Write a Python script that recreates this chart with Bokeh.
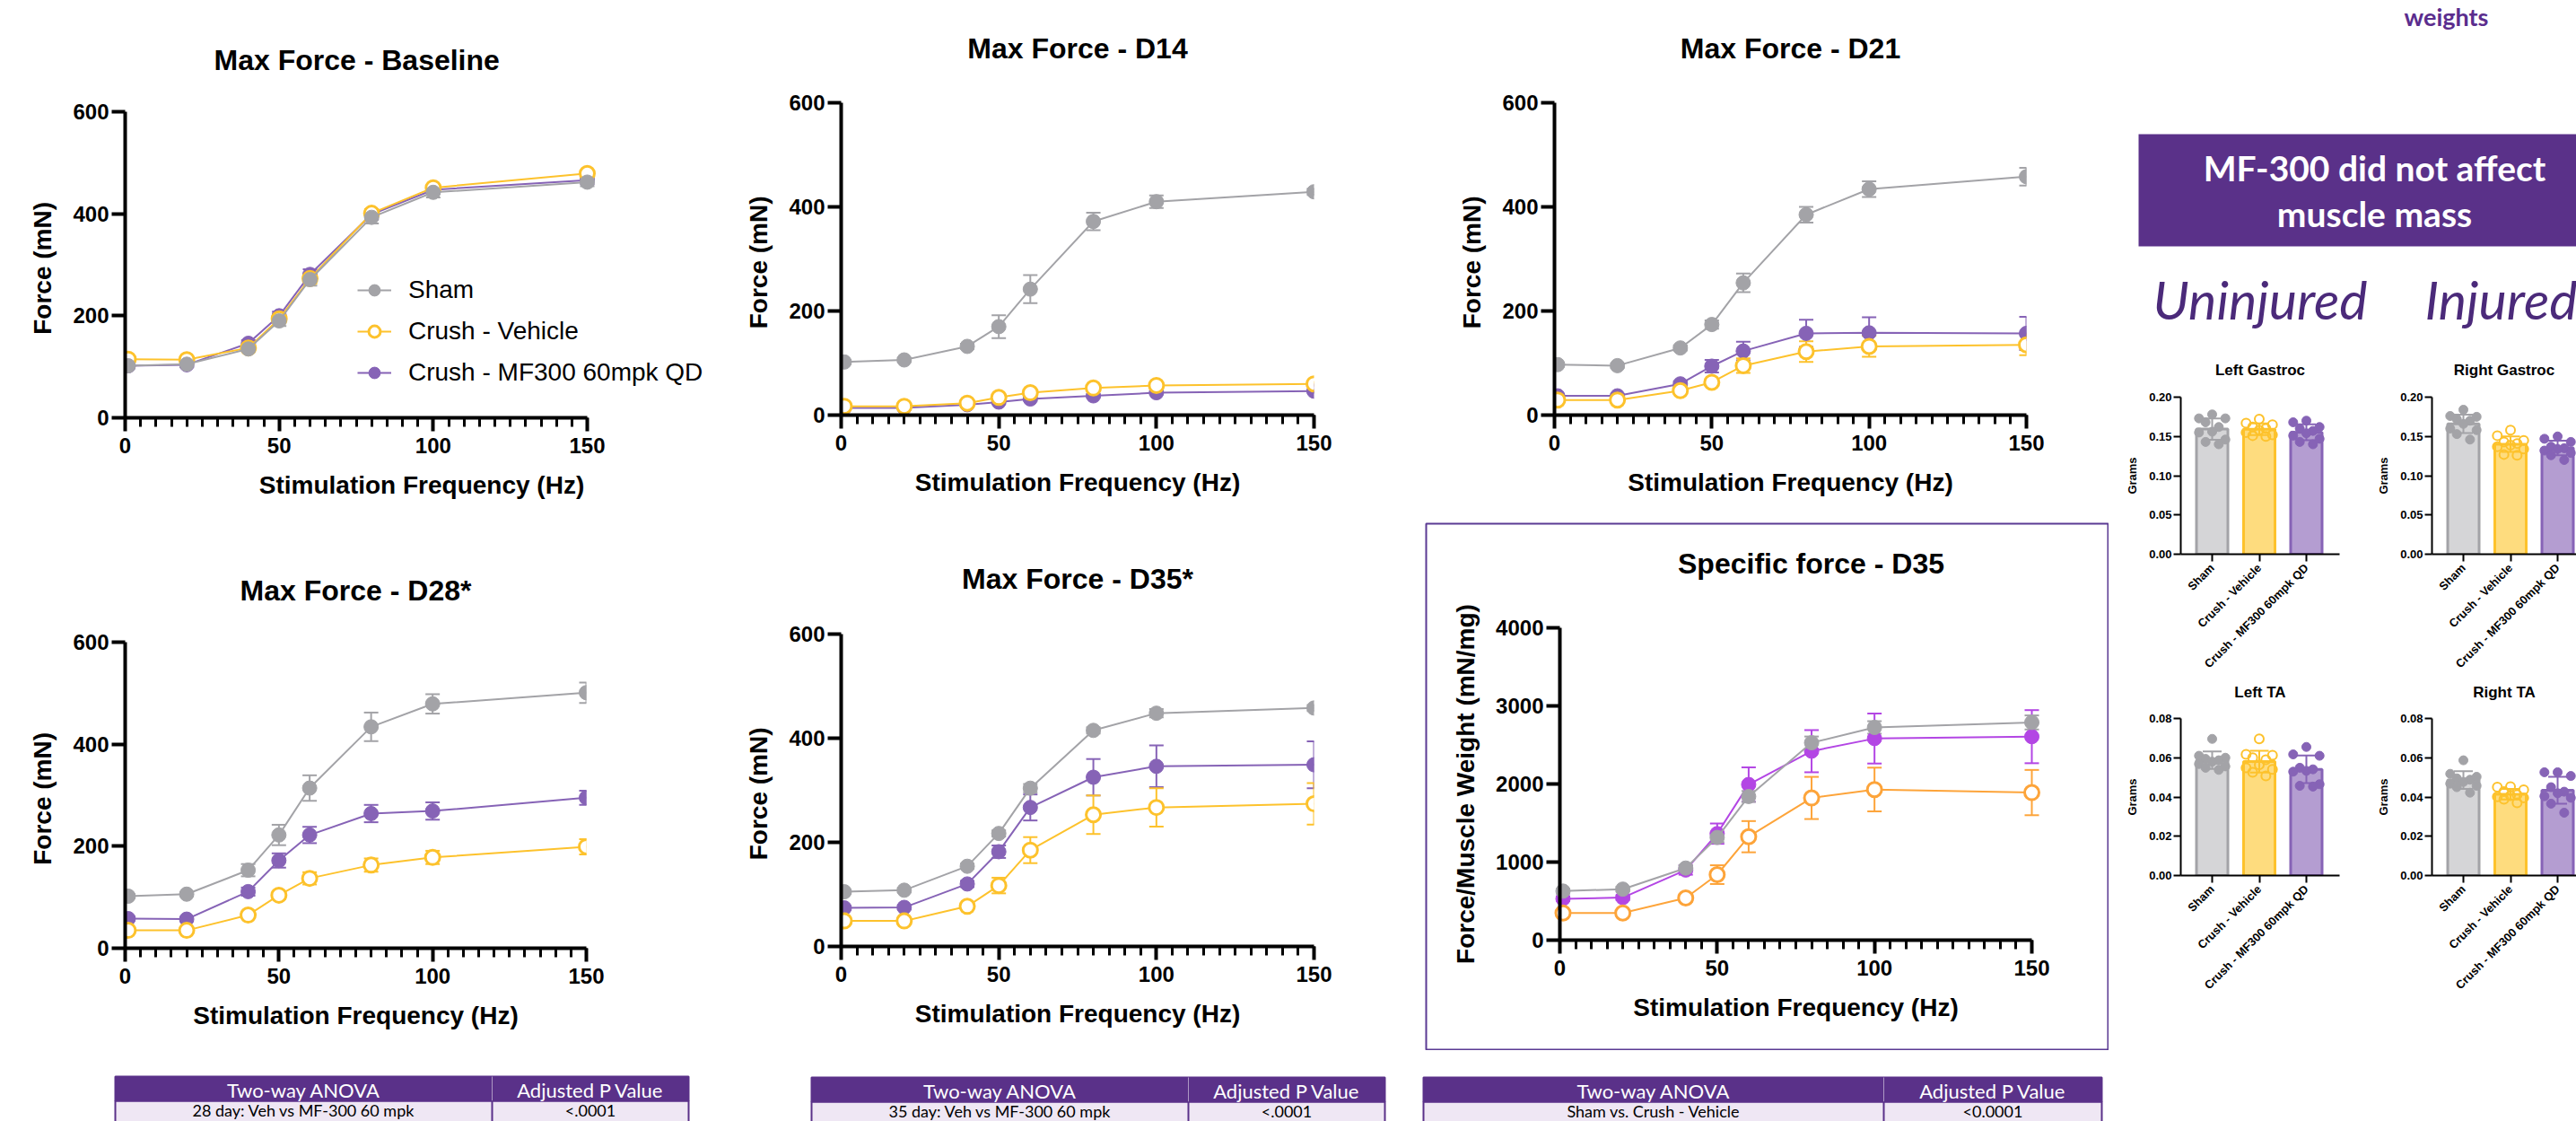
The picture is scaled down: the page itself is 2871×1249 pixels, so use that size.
import numpy as np
from bokeh.plotting import figure
from bokeh.layouts import row, column
from bokeh.models import (Range1d, FixedTicker, Legend, LegendItem, Whisker, TeeHead, Title,
                          ColumnDataSource, Spacer, NumeralTickFormatter, Label)
from bokeh.core.properties import value
from bokeh.embed import file_html
from bokeh.resources import INLINE

# ---------------- data ----------------
freq = [1, 20, 40, 50, 60, 80, 100, 150]
groups = ["Sham", "Crush - Vehicle", "Crush - MF300 60mpk QD"]

base_sham = [102, 105, 135, 190, 271, 393, 442, 462]
base_sham_err = [5, 5, 6, 10, 12, 12, 10, 8]
base_veh = [115, 114, 137, 194, 273, 401, 451, 479]
base_veh_err = [5, 5, 6, 8, 10, 8, 6, 6]
base_mf = [102, 104, 146, 200, 281, 399, 447, 466]
base_mf_err = [5, 5, 6, 8, 10, 10, 8, 8]

d14_sham = [102, 106, 132, 170, 242, 372, 410, 429]
d14_sham_err = [4, 4, 5, 22, 27, 17, 12, 6]
d14_veh = [17, 17, 23, 34, 43, 52, 57, 60]
d14_veh_err = [2, 2, 3, 4, 4, 4, 4, 4]
d14_mf = [14, 14, 20, 25, 31, 37, 43, 46]
d14_mf_err = [2, 2, 2, 3, 3, 3, 3, 3]

d21_sham = [97, 95, 129, 174, 254, 385, 434, 458]
d21_sham_err = [4, 4, 5, 8, 18, 15, 15, 17]
d21_veh = [29, 29, 47, 63, 95, 122, 132, 135]
d21_veh_err = [3, 3, 4, 6, 14, 20, 20, 20]
d21_mf = [37, 37, 60, 94, 123, 157, 158, 157]
d21_mf_err = [3, 3, 5, 12, 18, 26, 30, 32]

d28_sham = [102, 106, 153, 222, 314, 434, 479, 501]
d28_sham_err = [4, 4, 12, 20, 25, 28, 19, 20]
d28_veh = [35, 35, 65, 104, 137, 163, 178, 199]
d28_veh_err = [4, 4, 6, 8, 12, 13, 13, 15]
d28_mf = [58, 57, 111, 172, 222, 264, 269, 295]
d28_mf_err = [4, 4, 8, 14, 16, 17, 17, 14]

d35_sham = [105, 108, 154, 217, 304, 415, 448, 458]
d35_sham_err = [4, 4, 5, 6, 8, 6, 8, 6]
d35_veh = [49, 49, 77, 117, 185, 253, 267, 274]
d35_veh_err = [3, 3, 5, 15, 25, 37, 37, 40]
d35_mf = [74, 75, 120, 182, 267, 325, 346, 349]
d35_mf_err = [4, 4, 6, 12, 25, 35, 40, 45]

sp_sham = [628, 653, 923, 1315, 1840, 2528, 2724, 2788]
sp_sham_err = [30, 30, 40, 60, 70, 80, 80, 90]
sp_veh = [348, 348, 540, 839, 1325, 1821, 1929, 1890]
sp_veh_err = [30, 30, 50, 120, 200, 270, 280, 290]
sp_mf = [530, 545, 898, 1364, 1993, 2420, 2582, 2606]
sp_mf_err = [30, 30, 60, 130, 220, 270, 320, 340]

# muscle weights (grams), individual animals
lg_sham = [0.178, 0.173, 0.173, 0.168, 0.162, 0.156, 0.155, 0.146, 0.143, 0.140]
lg_veh = [0.172, 0.167, 0.165, 0.162, 0.160, 0.158, 0.155, 0.152, 0.151, 0.150]
lg_mf = [0.170, 0.168, 0.162, 0.160, 0.157, 0.154, 0.151, 0.147, 0.143, 0.140]
rg_sham = [0.184, 0.176, 0.175, 0.172, 0.170, 0.166, 0.160, 0.158, 0.153, 0.146]
rg_veh = [0.158, 0.151, 0.145, 0.143, 0.141, 0.139, 0.137, 0.134, 0.127, 0.126]
rg_mf = [0.150, 0.147, 0.143, 0.137, 0.135, 0.134, 0.132, 0.129, 0.126, 0.120]
lta_sham = [0.0696, 0.0610, 0.0600, 0.0594, 0.0587, 0.0580, 0.0568, 0.0556, 0.0549, 0.0538]
lta_veh = [0.0696, 0.0617, 0.0613, 0.0600, 0.0590, 0.0564, 0.0549, 0.0541, 0.0526, 0.0507]
lta_mf = [0.0655, 0.0617, 0.0610, 0.0549, 0.0541, 0.0533, 0.0529, 0.0465, 0.0457, 0.0453]
rta_sham = [0.0587, 0.0518, 0.0503, 0.0495, 0.0488, 0.0477, 0.0468, 0.0457, 0.0450, 0.0422]
rta_veh = [0.0453, 0.0450, 0.0437, 0.0427, 0.0411, 0.0407, 0.0401, 0.0396, 0.0389, 0.0370]
rta_mf = [0.0526, 0.0526, 0.0507, 0.0450, 0.0427, 0.0419, 0.0404, 0.0396, 0.0366, 0.0320]

gastroc_ticks = [0.00, 0.05, 0.10, 0.15, 0.20]
ta_ticks = [0.00, 0.02, 0.04, 0.06, 0.08]

table_headers = ["Two-way ANOVA", "Adjusted P Value"]
table_rows = ["28 day: Veh vs MF-300 60 mpk", "35 day: Veh vs MF-300 60 mpk", "Sham vs. Crush - Vehicle"]
table_pvals = ["<.0001", "<.0001", "<0.0001"]

# ---------------- style ----------------
SF = "Liberation Sans"
LATO = "Lato"
GRAY = "#a3a3a7"
YEL = "#fdc22c"
PUR = "#8663b6"
MAG = "#b346e4"
ORA = "#fda43a"
BANNER = "#5a3189"
BOXC = "#5b3a93"
DARKP = "#4b2a7a"
BAR_FILL = ["#d5d5d7", "#fedc7e", "#b49dd1"]
BAR_EDGE = ["#a3a3a7", "#fdc22c", "#8663b6"]


def style_axis(ax, tick_size, label_size, lw, maj_out, min_out):
    ax.axis_line_width = lw
    ax.axis_line_color = "black"
    ax.major_tick_line_width = lw
    ax.major_tick_line_color = "black"
    ax.major_tick_out = maj_out
    ax.major_tick_in = 0
    ax.minor_tick_line_width = max(lw - 1, 1)
    ax.minor_tick_line_color = "black"
    ax.minor_tick_out = min_out
    ax.minor_tick_in = 0
    ax.major_label_text_font = SF
    ax.major_label_text_font_style = "bold"
    ax.major_label_text_font_size = f"{tick_size}px"
    ax.major_label_text_color = "black"
    ax.axis_label_text_font = SF
    ax.axis_label_text_font_style = "bold"
    ax.axis_label_text_font_size = f"{label_size}px"
    ax.axis_label_text_color = "black"


def base_fig(w, h, xr, yr, bl, br, bt, bb):
    p = figure(width=w, height=h, x_range=xr, y_range=yr, output_backend="svg",
               toolbar_location=None, min_border_left=bl, min_border_right=br,
               min_border_top=bt, min_border_bottom=bb, title=None)
    p.grid.visible = False
    p.outline_line_color = None
    p.background_fill_color = "white"
    p.border_fill_color = "white"
    return p


def add_title(p, text, size, gap, offset=0, align="center"):
    # spacer title next to the frame, then the real title above it
    p.add_layout(Title(text=" ", text_font_size="1px", standoff=gap), "above")
    p.add_layout(Title(text=text, align=align, text_font=SF, text_font_style="bold",
                       text_font_size=f"{size}px", text_color="black", standoff=0,
                       offset=offset), "above")


def setup_force_axes(p, ylabel, yticks, ymax):
    p.xaxis.ticker = FixedTicker(ticks=[0, 50, 100, 150], minor_ticks=list(range(0, 151, 5)))
    p.xaxis.bounds = (0, 150)
    p.yaxis.ticker = FixedTicker(ticks=yticks, minor_ticks=[])
    p.yaxis.bounds = (0, ymax)
    p.xaxis.axis_label = "Stimulation Frequency (Hz)"
    p.yaxis.axis_label = ylabel
    style_axis(p.xaxis[0], 24, 28, 4, 15, 10)
    style_axis(p.yaxis[0], 24, 28, 4, 15, 0)
    p.xaxis.major_label_standoff = 7
    p.yaxis.major_label_standoff = 3
    p.xaxis.axis_label_standoff = 17
    p.yaxis.axis_label_standoff = 15


def draw_series(p, series, msize=16):
    rends = {}
    for name, vals, errs, col, hollow in series:
        src = ColumnDataSource(dict(x=freq, y=vals,
                                    lo=[v - e for v, e in zip(vals, errs)],
                                    hi=[v + e for v, e in zip(vals, errs)]))
        p.add_layout(Whisker(source=src, base="x", upper="hi", lower="lo", dimension="height",
                             line_color=col, line_width=2,
                             upper_head=TeeHead(size=16, line_color=col, line_width=2),
                             lower_head=TeeHead(size=16, line_color=col, line_width=2)))
        lr = p.line("x", "y", source=src, line_color=col, line_width=2)
        sr = p.scatter("x", "y", source=src, size=msize, marker="circle", line_color=col,
                       fill_color="white" if hollow else col, line_width=3 if hollow else 1)
        rends[name] = [lr, sr]
    return rends


def force_fig(w, h, bl, br, bt, bb, title, ymax, yticks, ylabel, series, t_gap,
              t_offset=0, t_align="center", xmax=150):
    p = base_fig(w, h, Range1d(0, xmax), Range1d(0, ymax), bl, br, bt, bb)
    add_title(p, title, 32, t_gap, t_offset, t_align)
    setup_force_axes(p, ylabel, yticks, ymax)
    rends = draw_series(p, series)
    return p, rends


def std_series(sham, sham_e, veh, veh_e, mf, mf_e, cols=(GRAY, YEL, PUR)):
    return [(groups[2], mf, mf_e, cols[2], False),
            (groups[1], veh, veh_e, cols[1], True),
            (groups[0], sham, sham_e, cols[0], False)]


# ---------------- force charts ----------------
YT = [0, 200, 400, 600]
YL = "Force  (mN)"
# Baseline frame runs to the figure edge so the legend is not clipped; axis bounded at 150
pA1, rA1 = force_fig(800, 578, 139, 0, 124, 113, "Max Force - Baseline", 600, YT, YL,
                     std_series(base_sham, base_sham_err, base_veh, base_veh_err, base_mf, base_mf_err),
                     37, t_offset=99, t_align="left", xmax=150 * 661 / 515)
legend = Legend(items=[LegendItem(label=g, renderers=rA1[g]) for g in groups],
                location=(259, 34), padding=0, margin=0, spacing=14,
                glyph_width=38, glyph_height=32, label_height=32, label_standoff=19,
                label_text_font=SF, label_text_font_size="28px", label_text_color="black",
                border_line_color=None, background_fill_alpha=0)
pA1.add_layout(legend)

pB1, _ = force_fig(780, 578, 137, 116, 114, 116, "Max Force - D14", 600, YT, YL,
                   std_series(d14_sham, d14_sham_err, d14_veh, d14_veh_err, d14_mf, d14_mf_err), 40)
pC1, _ = force_fig(780, 578, 152, 102, 114, 116, "Max Force - D21", 600, YT, YL,
                   std_series(d21_sham, d21_sham_err, d21_veh, d21_veh_err, d21_mf, d21_mf_err), 40)
pA2, _ = force_fig(800, 612, 139, 147, 137, 134, "Max Force - D28*", 600, YT, YL,
                   std_series(d28_sham, d28_sham_err, d28_veh, d28_veh_err, d28_mf, d28_mf_err), 37)
pB2, _ = force_fig(788, 612, 137, 124, 128, 136, "Max Force - D35*", 600, YT, YL,
                   std_series(d35_sham, d35_sham_err, d35_veh, d35_veh_err, d35_mf, d35_mf_err), 41)

# Specific force: the frame is the purple box; axes sit at fixed data locations inside it
SP_W, SP_H = 762, 588
SP_X0, SP_X150 = 150, 676      # px from box left where x=0 and x=150 fall
SP_Y4000, SP_Y0 = 117, 465     # px from box top where y=4000 and y=0 fall
fx = 150 / (SP_X150 - SP_X0)
fy = 4000 / (SP_Y0 - SP_Y4000)
pC2 = figure(width=SP_W, height=SP_H, output_backend="svg", toolbar_location=None,
             min_border=1, title=None,
             x_range=Range1d(-(SP_X0 - 1) * fx, 150 + (SP_W - 1 - SP_X150) * fx),
             y_range=Range1d(-(SP_H - 1 - SP_Y0) * fy, 4000 + (SP_Y4000 - 1) * fy))
pC2.grid.visible = False
pC2.outline_line_color = BOXC
pC2.outline_line_width = 2
pC2.border_fill_color = "white"
setup_force_axes(pC2, "Force/Muscle Weight (mN/mg)", [0, 1000, 2000, 3000, 4000], 4000)
pC2.xaxis.fixed_location = 0
pC2.yaxis.fixed_location = 0
draw_series(pC2, std_series(sp_sham, sp_sham_err, sp_veh, sp_veh_err, sp_mf, sp_mf_err,
                            cols=(GRAY, ORA, MAG)))
pC2.add_layout(Label(x=(2018 - 1588 - SP_X0) * fx, y=4000 + (SP_Y4000 - 45) * fy,
                     text="Specific force - D35", text_font=SF, text_font_style="bold",
                     text_font_size="32px", text_color="black", text_align="center",
                     text_baseline="middle"))
boxC2 = column(Spacer(width=762, height=4), pC2)

# ---------------- tables ----------------
ptab = figure(width=2360, height=59, x_range=Range1d(0, 2360), y_range=Range1d(1249, 1190),
              output_backend="svg", toolbar_location=None, min_border=0,
              x_axis_location=None, y_axis_location=None)
ptab.grid.visible = False
ptab.outline_line_color = None
tab_left = [128, 904, 1586]
tab_right = [767, 1543, 2342]
tab_div = [548, 1324, 2099]
tab_top = [1199, 1200, 1200]
tab_hdr_h = 27
for i in range(3):
    l, r, d, t = tab_left[i], tab_right[i], tab_div[i], tab_top[i]
    hb = t + tab_hdr_h
    ptab.quad(left=[l], right=[r], top=[hb], bottom=[hb + 40], fill_color="#efe7f4",
              line_color=BANNER, line_width=2)
    ptab.quad(left=[l], right=[r], top=[t], bottom=[hb], fill_color=BANNER, line_color=BANNER,
              line_width=2)
    ptab.segment(x0=[d], y0=[t], x1=[d], y1=[hb], line_color="#ffffff", line_width=1, line_alpha=0.5)
    ptab.segment(x0=[d], y0=[hb], x1=[d], y1=[hb + 40], line_color=BANNER, line_width=2)
    ptab.text(x=[(l + d) / 2, (d + r) / 2], y=[t + tab_hdr_h / 2 + 1] * 2, text=table_headers,
              text_font=value(LATO), text_font_size="22px", text_color="white",
              text_align="center", text_baseline="middle")
    ptab.text(x=[(l + d) / 2, (d + r) / 2], y=[hb + 10] * 2, text=[table_rows[i], table_pvals[i]],
              text_font=value(LATO), text_font_size="18px", text_color="black",
              text_align="center", text_baseline="middle")

# ---------------- right panel header ----------------
HDR_H = 376
ph = figure(width=511, height=HDR_H, x_range=Range1d(2360, 2871), y_range=Range1d(HDR_H, 0),
            output_backend="svg", toolbar_location=None, min_border=0,
            x_axis_location=None, y_axis_location=None)
ph.grid.visible = False
ph.outline_line_color = None
ph.text(x=[2726], y=[18], text=["weights"], text_font=value(LATO), text_font_style="bold",
        text_font_size="27px", text_color="#5b2d8e", text_align="center",
        text_baseline="middle")
ph.quad(left=[2383], right=[2875], top=[149], bottom=[274], fill_color=BANNER, line_color=None)
ph.text(x=[2646, 2646], y=[186, 237], text=["MF-300 did not affect", "muscle mass"],
        text_font=value(LATO), text_font_style="bold", text_font_size="39px",
        text_color="white", text_align="center", text_baseline="middle")
ph.text(x=[2399, 2702], y=[333, 333], text=["Uninjured", "Injured"], text_font=value(LATO),
        text_font_style="italic", text_font_size="59px", text_color=DARKP,
        text_align="left", text_baseline="middle")

# ---------------- muscle weight bar charts ----------------
OFFS = [0.0, -0.28, 0.28, -0.14, 0.14]


def mass_fig(w, h, bl, br, bt, bb, title, data, ymax, yticks, xend, t_standoff):
    p = base_fig(w, h, Range1d(0.333, xend), Range1d(0, ymax), bl, br, bt, bb)
    p.add_layout(Title(text=title, align="center", text_font=SF, text_font_style="bold",
                       text_font_size="17px", text_color="black", standoff=t_standoff), "above")
    p.xaxis.ticker = FixedTicker(ticks=[1, 2, 3], minor_ticks=[])
    p.xaxis.major_label_overrides = {i + 1: g for i, g in enumerate(groups)}
    p.xaxis.major_label_orientation = np.pi / 4
    p.yaxis.ticker = FixedTicker(ticks=yticks, minor_ticks=[])
    p.yaxis.formatter = NumeralTickFormatter(format="0.00")
    p.yaxis.axis_label = "Grams"
    style_axis(p.xaxis[0], 13, 13, 2, 8, 0)
    style_axis(p.yaxis[0], 13, 13, 2, 8, 0)
    p.yaxis.major_label_standoff = 2
    p.xaxis.major_label_standoff = 5
    p.yaxis.axis_label_standoff = 8
    for i, vals in enumerate(data):
        xi = i + 1
        m = float(np.mean(vals))
        sd = float(np.std(vals, ddof=1))
        p.vbar(x=[xi], top=[m], bottom=0, width=0.667, fill_color=BAR_FILL[i],
               line_color=BAR_EDGE[i], line_width=3)
        p.segment(x0=[xi], y0=[m - sd], x1=[xi], y1=[m + sd], line_color=BAR_EDGE[i], line_width=2)
        p.segment(x0=[xi - 0.2, xi - 0.2], y0=[m - sd, m + sd], x1=[xi + 0.2, xi + 0.2],
                  y1=[m - sd, m + sd], line_color=BAR_EDGE[i], line_width=2)
        order = np.argsort(vals)[::-1]
        xs = [0.0] * len(vals)
        for k, idx in enumerate(order):
            xs[idx] = xi + OFFS[k % len(OFFS)]
        if i == 1:
            p.scatter(xs, vals, size=10, marker="circle", line_color=BAR_EDGE[i],
                      fill_alpha=0, line_width=2)
        else:
            p.scatter(xs, vals, size=10, marker="circle", line_color=BAR_EDGE[i],
                      fill_color=BAR_EDGE[i])
    return p


# gastroc figs: y 376..756 (frame 442..617); TA figs: y 756..1249 (frame 800..975)
# TA titles carry a blank second line so they sit higher within the small top border
pLG = mass_fig(280, 380, 70, 33, 66, 139, "Left Gastroc", [lg_sham, lg_veh, lg_mf], 0.20,
               gastroc_ticks, 3.705, 41)
pRG = mass_fig(231, 380, 70, 0, 66, 139, "Right Gastroc", [rg_sham, rg_veh, rg_mf], 0.20,
               gastroc_ticks, 0.333 + 161 / 52.5, 41)
pLTA = mass_fig(280, 493, 70, 33, 44, 274, "Left TA\n ", [lta_sham, lta_veh, lta_mf], 0.08,
                ta_ticks, 3.705, 2)
pRTA = mass_fig(231, 493, 70, 0, 44, 274, "Right TA\n ", [rta_sham, rta_veh, rta_mf], 0.08,
                ta_ticks, 0.333 + 161 / 52.5, 2)

# ---------------- layout ----------------
# each plot wrapped in its own column so frames are not aligned across a row
top_row = row(column(pA1), column(pB1), column(pC1))
bottom_row = row(column(pA2), column(pB2), boxC2)
left_block = column(top_row, bottom_row, ptab)
right_block = column(ph, row(column(pLG), column(pRG)), row(column(pLTA), column(pRTA)))
layout = row(left_block, right_block)

open("out.html", "w").write(file_html(layout, INLINE))
